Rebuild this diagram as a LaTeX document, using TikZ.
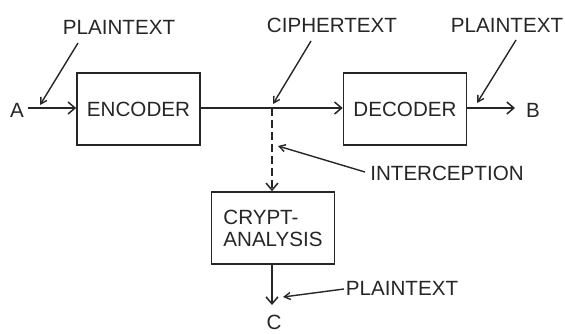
\documentclass[tikz,border=0pt]{standalone}
\usepackage{fontspec}
\setmainfont{Liberation Sans}
\usetikzlibrary{arrows.meta}
\begin{document}
\begin{tikzpicture}[x=1pt,y=-1pt,
  every node/.style={font=\fontsize{20.6}{22}\selectfont, text=black!85},
  blockbox/.style={draw=black!85, line width=1.6pt, minimum width=123pt, minimum height=72pt, inner sep=0pt},
  flow/.style={draw=black!85, line width=1.6pt, -{Straight Barb[length=7pt,width=12pt,line width=1.5pt]}},
  pointer/.style={draw=black!85, line width=1.4pt, -{Straight Barb[length=6pt,width=7pt,line width=1.4pt]}},
  lbl/.style={inner sep=0pt}
]
\path[use as bounding box] (0,0) rectangle (565,333);
% blocks
\node[blockbox] (enc) at (138.5,109) {ENCODER};
\node[blockbox] (dec) at (405,109) {DECODER};
\node[blockbox, align=left] (crypt) at (273,228) {CRYPT-\\ANALYSIS};
% end labels
\node[lbl] (A) at (17,110) {A};
\node[lbl] (B) at (533,110) {B};
\node[lbl] (C) at (274,322) {C};
% text labels
\node[lbl] (pt1) at (119,27) {PLAINTEXT};
\node[lbl] (ct) at (332,25) {CIPHERTEXT};
\node[lbl] (pt2) at (507,25) {PLAINTEXT};
\node[lbl] (ic) at (447,173) {INTERCEPTION};
\node[lbl] (pt3) at (402,288) {PLAINTEXT};
% coordinates
\coordinate (a0) at (28,108);
\coordinate (J) at (272,108);
\coordinate (b1) at (515,108);
\coordinate (c1) at (272,305);
% main flow
\draw[flow] (a0) -- (enc.west |- a0);
\draw[flow] (enc.east |- J) -- (dec.west |- J);
\draw[flow] (dec.east |- J) -- (b1);
\draw[flow, dash pattern=on 8pt off 4pt] (J) -- (J |- crypt.north);
\draw[flow] (J |- crypt.south) -- (c1);
% pointers
\coordinate (p1s) at (78,43);   \coordinate (p1e) at (40,105);
\coordinate (cts) at (311,41);  \coordinate (cte) at (273,104);
\coordinate (p2s) at (516,40);  \coordinate (p2e) at (477,103);
\coordinate (ics) at (365,172); \coordinate (ice) at (278,146);
\coordinate (p3s) at (344,289); \coordinate (p3e) at (283,297);
\draw[pointer] (p1s) -- (p1e);
\draw[pointer] (cts) -- (cte);
\draw[pointer] (p2s) -- (p2e);
\draw[pointer] (ics) -- (ice);
\draw[pointer] (p3s) -- (p3e);
\end{tikzpicture}
\end{document}
